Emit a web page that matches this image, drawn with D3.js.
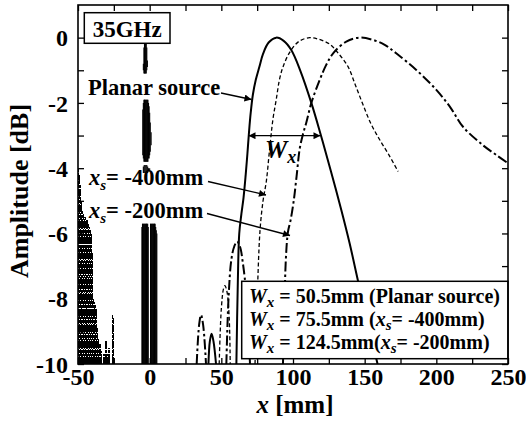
<!DOCTYPE html>
<html><head><meta charset="utf-8">
<script src="https://cdn.jsdelivr.net/npm/d3@7"></script>
<style>body{margin:0;background:#fff}svg{display:block}text{font-family:"Liberation Serif","Times New Roman",Times,serif;font-weight:bold}</style>
</head><body>
<script>
// ---- data ----
const xTicks = [-50,-25,0,25,50,75,100,125,150,175,200,225,250];
const xLabels = [-50,0,50,100,150,200,250];
const yTicks = [-10,-9,-8,-7,-6,-5,-4,-3,-2,-1,0];
const yLabels = [-10,-8,-6,-4,-2,0];

const planarX = [60.5,61.5,62.5,64,65.5,67,68.2,69.3,70.5,72,74,76.5,79.1,83,88.3,93.5,98.8,105,112.8,119.7,126.5,133.7,139.5,145.8,152.5,159];
const planarY = [-10,-7.5,-6,-5.4,-4.9,-4.2,-3.55,-2.9,-2.3,-1.75,-1.3,-0.9,-0.5,-0.15,0,-0.1,-0.38,-1.0,-2.0,-3.03,-4.1,-5.28,-6.3,-7.54,-8.8,-10];
const xs400X = [73.5,75,77,79.1,81.4,83.5,86,88.3,90.5,93,97.7,104,111.6,118,125.6,132,138.4,143.5,148.8,154.5,160.5,167,173.3];
const xs400Y = [-10,-8,-5.9,-5.0,-4.4,-3.5,-2.5,-1.9,-1.3,-0.9,-0.45,-0.12,0,-0.05,-0.2,-0.5,-0.89,-1.45,-2.05,-2.65,-3.13,-3.6,-4.1];
const xs200X = [93,94,95,96.5,98.3,100.5,102.5,104.7,107,109.3,112.8,118.6,123,128,137.2,146.5,155.8,164,172,186,200,210,218.6,232.6,242,250];
const xs200Y = [-10,-8.3,-6.8,-5.95,-5.6,-5.0,-4.25,-3.4,-2.95,-2.6,-2.0,-1.3,-0.85,-0.48,-0.12,0,-0.07,-0.22,-0.48,-0.99,-1.6,-2.15,-2.73,-3.3,-3.6,-3.85];

const planarLobeX = [41,42,43.2,44.5,46.3];
const planarLobeY = [-10,-9.3,-9.07,-9.3,-10];
const xs400LobeX = [48.5,50,51.5,52.5,54,55.5,56.2];
const xs400LobeY = [-10,-8.3,-7.7,-7.6,-7.8,-8.6,-10];
const xs200Lobe1X = [53.5,55,57,59,61,63,65,67.5,70];
const xs200Lobe1Y = [-10,-8,-6.8,-6.4,-6.25,-6.4,-6.9,-7.9,-10];
const xs200Lobe2X = [32.8,34.5,35.8,37.3,39.3];
const xs200Lobe2Y = [-10,-8.8,-8.5,-8.8,-10];

// clutter near x=-50 (vertical traces from -10 dB up to top)
const noiseX = [-49.7,-49.0,-48.3,-47.6,-46.9,-46.2,-45.5,-44.8,-44.1,-43.4,-42.7,-42.0,-41.3,-40.6,-39.9,-39.2,-38.5,-37.8,-37.1,-36.4,-35.7,-34.7,-33.6,-31.9,-30.5,-29.5,-28.4,-26.0,-25.2];
const noiseTop = [-4.0,-4.2,-4.5,-5.0,-5.3,-5.4,-5.5,-5.5,-5.6,-5.6,-5.7,-5.8,-5.9,-6.0,-6.6,-8.0,-8.1,-8.2,-8.3,-8.9,-9.2,-9.4,-9.6,-9.7,-9.3,-9.7,-9.5,-8.5,-8.6];
const noiseStyle = [1,2,1,0,2,1,2,1,0,2,1,2,1,2,1,2,0,1,2,1,2,1,2,1,2,1,2,2,1];

// spike around x=0
const spikeX = [-5.4,-5.0,-4.6,-4.2,-3.8,-3.4,-3.0,-2.6,-2.2,-1.8,-1.4,-1.0,0.6,1.0,1.4,1.8,2.2,2.6,3.0,3.4,3.8,4.2,4.6,5.0,
                -4.8,-4.4,-4.0,-3.6,-3.2,-2.8,-2.4,-2.0,-1.6,-1.2,-0.8,-0.4,0.0,0.4,1.0,
                -4.4,-3.8,-3.2,-2.6,-2.0,-1.4,-0.8,0.0,
                -4.4,-4.0,-3.6,-3.2,-2.8,-2.4,-2.0,-1.6];
const spikeTop = [-5.8,-5.7,-5.7,-5.7,-5.7,-5.7,-5.7,-5.7,-5.7,-5.7,-5.7,-5.8,-5.7,-5.7,-5.7,-5.7,-5.7,-5.7,-5.7,-5.7,-5.7,-5.8,-5.9,-6.0,
                -2.2,-2.0,-1.9,-1.9,-1.9,-1.9,-1.9,-1.9,-1.9,-1.9,-2.0,-2.1,-2.3,-2.6,-2.9,
                -3.95,-3.9,-3.9,-3.9,-3.9,-3.95,-4.0,-4.0,
                -0.8,-0.3,-0.1,-0.05,-0.05,-0.1,-0.3,-0.7];
const spikeBottom = [-10,-10,-10,-10,-10,-10,-10,-10,-10,-10,-10,-10,-10,-10,-10,-10,-10,-10,-10,-10,-10,-10,-10,-10,
                -3.6,-3.7,-3.8,-3.8,-3.8,-3.8,-3.8,-3.8,-3.8,-3.8,-3.7,-3.7,-3.6,-3.5,-3.3,
                -4.15,-4.15,-4.15,-4.15,-4.15,-4.15,-4.1,-4.1,
                -1.0,-1.1,-1.1,-1.1,-1.1,-1.1,-1.0,-0.9];

const legendLines = [
  {w:"50.5mm (Planar source)", xs:null},
  {w:"75.5mm (", xs:"= -400mm)"},
  {w:"124.5mm(", xs:"= -200mm)"}
];

// ---- chart ----
const W = 526, H = 425;
const svg = d3.select("body").append("svg").attr("width", W).attr("height", H);
const x = d3.scaleLinear().domain([-50,250]).range([78,508]);
const y = d3.scaleLinear().domain([-10,1]).range([364,5]);

svg.append("defs").append("clipPath").attr("id","clip")
  .append("rect").attr("x",78).attr("y",5).attr("width",430).attr("height",359);
svg.append("defs").append("marker").attr("id","ah").attr("viewBox","0 0 10 10")
  .attr("refX",10).attr("refY",5).attr("markerWidth",9).attr("markerHeight",7)
  .attr("markerUnits","userSpaceOnUse").attr("orient","auto-start-reverse")
  .append("path").attr("d","M0,0L10,5L0,10z").attr("fill","#000");

const plot = svg.append("g").attr("clip-path","url(#clip)");

// clutter
const dashFor = s => s===0 ? "14,1" : (s===1 ? "7,1" : "10,1,3,1");
plot.selectAll(".nz").data(noiseX).join("line")
  .attr("x1",d=>x(d)).attr("x2",d=>x(d))
  .attr("y1",y(-10)).attr("y2",(d,i)=>y(noiseTop[i]))
  .attr("stroke","#000").attr("stroke-width",1.6)
  .attr("shape-rendering","crispEdges")
  .attr("stroke-dasharray",(d,i)=>dashFor(noiseStyle[i]));
plot.selectAll(".sp").data(spikeX).join("line")
  .attr("x1",d=>x(d)).attr("x2",d=>x(d))
  .attr("y1",(d,i)=>y(spikeBottom[i])).attr("y2",(d,i)=>y(spikeTop[i]))
  .attr("stroke","#000").attr("stroke-width",1.1);

const line = d3.line().x(d=>x(d[0])).y(d=>y(d[1])).curve(d3.curveCatmullRom.alpha(0.5));
const zip = (a,b)=>a.map((v,i)=>[v,b[i]]);
function curve(xa, ya, w, dash){
  plot.append("path").attr("d", line(zip(xa,ya))).attr("fill","none")
    .attr("stroke","#000").attr("stroke-width",w).attr("stroke-dasharray",dash);
}
const DASH = "4,2.5", DDOT = "10,3,2.5,3";
curve(planarX, planarY, 2, null);
curve(planarLobeX, planarLobeY, 2, null);
curve(xs400X, xs400Y, 1.3, DASH);
curve(xs400LobeX, xs400LobeY, 1.3, DASH);
curve(xs200X, xs200Y, 2, DDOT);
curve(xs200Lobe1X, xs200Lobe1Y, 2, DDOT);
curve(xs200Lobe2X, xs200Lobe2Y, 2, DDOT);

// axes (inward ticks)
const fmt = d => xLabels.includes(d) ? String(d) : "";
svg.append("g").attr("transform","translate(0,364)")
  .call(d3.axisBottom(x).tickValues(xTicks).tickSize(-6).tickPadding(4).tickFormat(fmt));
svg.append("g").attr("transform","translate(0,5)")
  .call(d3.axisTop(x).tickValues(xTicks).tickSize(-6).tickFormat(""));
const ay = svg.append("g").attr("transform","translate(78,0)")
  .call(d3.axisLeft(y).tickValues(yTicks).tickSize(-6).tickPadding(10)
    .tickFormat(d => yLabels.includes(d) ? String(d) : ""));
svg.append("g").attr("transform","translate(508,0)")
  .call(d3.axisRight(y).tickValues(yTicks).tickSize(-6).tickFormat(""));
svg.selectAll(".domain").remove();
svg.selectAll(".tick line").attr("stroke","#000").attr("stroke-width",1.3);
svg.selectAll(".tick text").attr("font-family",'"Liberation Serif","Times New Roman",serif').attr("font-weight","bold")
  .attr("font-size",24).attr("fill","#000");
ay.selectAll(".tick text").attr("dy","0.34em");

// legend box
const lg = svg.append("g");
lg.append("rect").attr("x",241.7).attr("y",281.3).attr("width",508-241.7).attr("height",358.7-281.3)
  .attr("fill","#fff").attr("stroke","#000").attr("stroke-width",1.5);
legendLines.forEach((L,i)=>{
  const t = lg.append("text").attr("x",249).attr("y",303+i*23.2).attr("font-size",20);
  t.append("tspan").attr("font-style","italic").text("W");
  t.append("tspan").attr("font-style","italic").attr("font-size",15).attr("dy",4).text("x");
  t.append("tspan").attr("dy",-4).text(" = " + L.w);
  if (L.xs){
    t.append("tspan").attr("font-style","italic").text("x");
    t.append("tspan").attr("font-style","italic").attr("font-size",15).attr("dy",4).text("s");
    t.append("tspan").attr("dy",-4).text(L.xs);
  }
});

// frame
svg.append("rect").attr("x",78).attr("y",5).attr("width",430).attr("height",359)
  .attr("fill","none").attr("stroke","#000").attr("stroke-width",1.6);

// 35GHz box
svg.append("rect").attr("x",84.3).attr("y",12.7).attr("width",85.7).attr("height",30.6)
  .attr("fill","#fff").attr("stroke","#000").attr("stroke-width",1.5);
svg.append("text").attr("x",127.2).attr("y",36.5).attr("text-anchor","middle").attr("font-size",23).text("35GHz");

// annotations
svg.append("text").attr("x",88).attr("y",95).attr("font-size",22.5).text("Planar source");
svg.append("line").attr("x1",221).attr("y1",93).attr("x2",251.5).attr("y2",99.5)
  .attr("stroke","#000").attr("stroke-width",1.3).attr("marker-end","url(#ah)");
function xsLabel(yb, txt){
  const t = svg.append("text").attr("x",89).attr("y",yb).attr("font-size",22.5);
  t.append("tspan").attr("font-style","italic").text("x");
  t.append("tspan").attr("font-style","italic").attr("font-size",15).attr("dy",5).text("s");
  t.append("tspan").attr("dy",-5).text(txt);
}
xsLabel(185, "= -400mm");
xsLabel(218, "= -200mm");
svg.append("line").attr("x1",208).attr("y1",181.5).attr("x2",266).attr("y2",195)
  .attr("stroke","#000").attr("stroke-width",1.3).attr("marker-end","url(#ah)");
svg.append("line").attr("x1",207).attr("y1",213.5).attr("x2",290).attr("y2",235.5)
  .attr("stroke","#000").attr("stroke-width",1.3).attr("marker-end","url(#ah)");

// W_x double arrow
svg.append("line").attr("x1",248.5).attr("y1",135.7).attr("x2",320.5).attr("y2",135.7)
  .attr("stroke","#000").attr("stroke-width",1.3)
  .attr("marker-start","url(#ah)").attr("marker-end","url(#ah)");
const wt = svg.append("text").attr("x",265).attr("y",158).attr("font-size",25);
wt.append("tspan").attr("font-style","italic").text("W");
wt.append("tspan").attr("font-style","italic").attr("font-size",18).attr("dy",5).text("x");

// axis titles
const xt = svg.append("text").attr("x",295).attr("y",412.5).attr("text-anchor","middle").attr("font-size",25);
xt.append("tspan").attr("font-style","italic").text("x");
xt.append("tspan").text(" [mm]");
svg.append("text").attr("transform","translate(28,191) rotate(-90)").attr("text-anchor","middle")
  .attr("font-size",26).text("Amplitude [dB]");
</script>
</body></html>
